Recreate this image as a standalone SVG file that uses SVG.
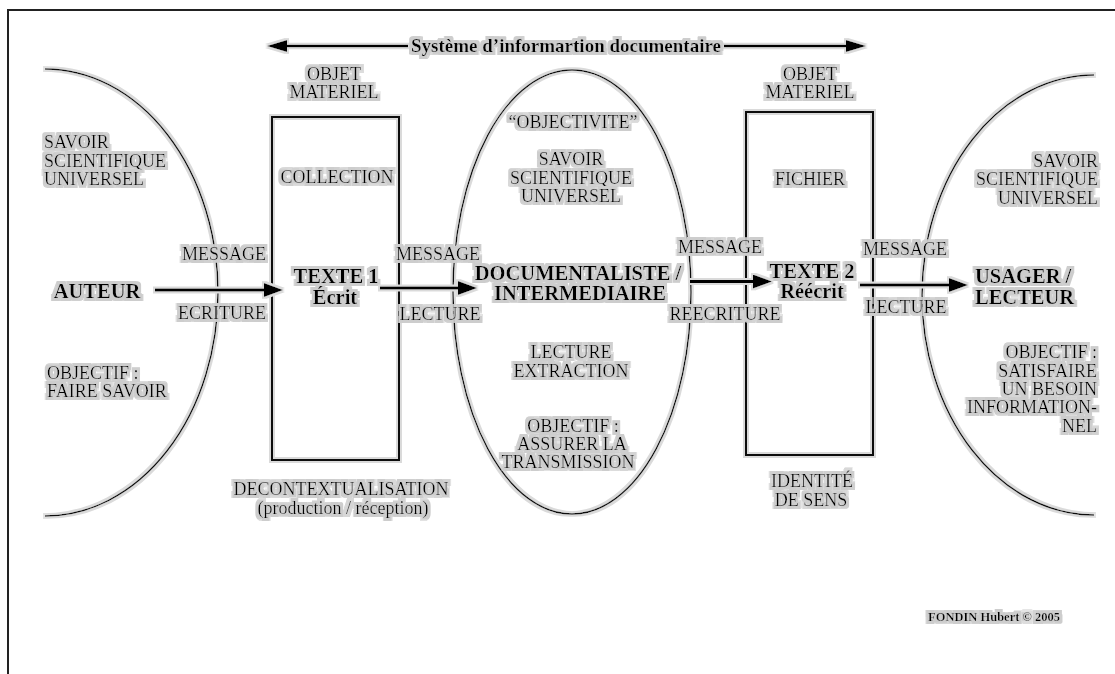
<svg xmlns="http://www.w3.org/2000/svg" width="1115" height="674" viewBox="0 0 1115 674">
<defs>
<style>
.t{font-family:"Liberation Serif","Times New Roman",serif;font-size:18px;fill:#000;filter:url(#haloT)}
.b{font-weight:bold;font-size:20.5px}
.m{text-anchor:middle}
.e{text-anchor:end}
.ln{fill:none;stroke:#111;stroke-width:1.5}
.bx{fill:none;stroke:#111;stroke-width:2}
.cn{fill:none;stroke:#000;stroke-width:3}
.tt{fill:none;stroke:#000;stroke-width:2.6}
.sh{filter:url(#haloL)}
</style>
<marker id="ah" markerUnits="userSpaceOnUse" markerWidth="20" markerHeight="14" refX="9" refY="7" orient="auto">
<path d="M0,0 L19,7 L0,14 z" fill="#000"/>
</marker>
<marker id="ahs" markerUnits="userSpaceOnUse" markerWidth="20" markerHeight="12" refX="10" refY="6" orient="auto-start-reverse">
<path d="M0,0 L20,6 L0,12 z" fill="#000"/>
</marker>
<filter id="haloT" filterUnits="userSpaceOnUse" x="0" y="0" width="1115" height="674">
<feMorphology in="SourceAlpha" operator="dilate" radius="2.5" result="d"/>
<feFlood flood-color="#cdcdcd"/>
<feComposite in2="d" operator="in" result="h"/>
<feMerge><feMergeNode in="h"/><feMergeNode in="SourceGraphic"/></feMerge>
</filter>
<filter id="haloL" filterUnits="userSpaceOnUse" x="0" y="0" width="1115" height="674">
<feMorphology in="SourceAlpha" operator="dilate" radius="1.6" result="d"/>
<feFlood flood-color="#dadada"/>
<feComposite in2="d" operator="in" result="h"/>
<feMerge><feMergeNode in="h"/><feMergeNode in="SourceGraphic"/></feMerge>
</filter>
</defs>
<rect width="1115" height="674" fill="#fff"/>
<path id="frame" d="M8,674 V10 H1115" fill="none" stroke="#222" stroke-width="2"/>

<g id="titre">
<g class="sh">
<line class="tt" x1="408" y1="46" x2="277" y2="46" marker-end="url(#ahs)"/>
<line class="tt" x1="724" y1="46" x2="856" y2="46" marker-end="url(#ahs)"/>
</g>
<text class="t m" x="566" y="52" style="font-weight:bold;font-size:19px">Système d’informartion documentaire</text>
</g>

<g id="auteur">
<path class="ln sh" d="M45,69 A173,223.5 0 0 1 45,516"/>
<text class="t" x="44" y="148">SAVOIR</text>
<text class="t" x="44" y="166.5">SCIENTIFIQUE</text>
<text class="t" x="44" y="185">UNIVERSEL</text>
<text class="t b m" x="97" y="298">AUTEUR</text>
<text class="t" x="47" y="379">OBJECTIF :</text>
<text class="t" x="47" y="397">FAIRE SAVOIR</text>
</g>

<g id="texte1">
<rect class="bx sh" x="272" y="117" width="127" height="343"/>
<text class="t m" x="334" y="80">OBJET</text>
<text class="t m" x="334" y="98">MATERIEL</text>
<text class="t m" x="337" y="183">COLLECTION</text>
<text class="t b m" x="336" y="283">TEXTE 1</text>
<text class="t b m" x="335" y="304">Écrit</text>
<text class="t m" x="341" y="495">DECONTEXTUALISATION</text>
<text class="t m" x="343" y="514">(production / réception)</text>
</g>

<g id="documentaliste">
<ellipse class="ln sh" cx="572" cy="292" rx="119" ry="222"/>
<text class="t m" x="573" y="128">“OBJECTIVITE”</text>
<text class="t m" x="571" y="165">SAVOIR</text>
<text class="t m" x="571" y="183.5">SCIENTIFIQUE</text>
<text class="t m" x="571" y="202">UNIVERSEL</text>
<text class="t b m" x="578" y="280">DOCUMENTALISTE /</text>
<text class="t b m" x="580" y="300">INTERMEDIAIRE</text>
<text class="t m" x="571" y="358">LECTURE</text>
<text class="t m" x="571" y="377">EXTRACTION</text>
<text class="t m" x="573" y="432">OBJECTIF :</text>
<text class="t m" x="572" y="450">ASSURER LA</text>
<text class="t m" x="568" y="468">TRANSMISSION</text>
</g>

<g id="texte2">
<rect class="bx sh" x="746" y="112" width="127" height="343"/>
<text class="t m" x="810" y="80">OBJET</text>
<text class="t m" x="810" y="98">MATERIEL</text>
<text class="t m" x="810" y="185">FICHIER</text>
<text class="t b m" x="812" y="278">TEXTE 2</text>
<text class="t b m" x="812" y="298">Réécrit</text>
<text class="t m" x="812" y="487">IDENTITÉ</text>
<text class="t m" x="811" y="506">DE SENS</text>
</g>

<g id="usager">
<path class="ln sh" d="M1094,75 A172,220 0 0 0 1094,515"/>
<text class="t e" x="1098" y="167">SAVOIR</text>
<text class="t e" x="1098" y="185">SCIENTIFIQUE</text>
<text class="t e" x="1098" y="204">UNIVERSEL</text>
<text class="t b" x="975" y="283">USAGER /</text>
<text class="t b" x="975" y="304">LECTEUR</text>
<text class="t e" x="1097" y="358">OBJECTIF :</text>
<text class="t e" x="1097" y="377">SATISFAIRE</text>
<text class="t e" x="1097" y="395">UN BESOIN</text>
<text class="t e" x="1097" y="413">INFORMATION-</text>
<text class="t e" x="1097" y="432">NEL</text>
</g>

<g id="connecteurs">
<g class="sh">
<line class="cn" x1="155" y1="290" x2="273" y2="290" marker-end="url(#ah)"/>
<line class="cn" x1="380" y1="288" x2="467" y2="288" marker-end="url(#ah)"/>
<line class="cn" x1="690" y1="281.5" x2="762" y2="281.5" marker-end="url(#ah)"/>
<line class="cn" x1="860" y1="285" x2="958" y2="285" marker-end="url(#ah)"/>
</g>
<text class="t m" x="224" y="260">MESSAGE</text>
<text class="t m" x="222" y="319">ECRITURE</text>
<text class="t m" x="438" y="260">MESSAGE</text>
<text class="t m" x="440" y="320">LECTURE</text>
<text class="t m" x="720" y="253">MESSAGE</text>
<text class="t m" x="725" y="320">REECRITURE</text>
<text class="t m" x="905" y="255">MESSAGE</text>
<text class="t m" x="906" y="313">LECTURE</text>
</g>

<g id="credit">
<text class="t m" x="994" y="621" style="font-weight:bold;font-size:12.5px">FONDIN Hubert © 2005</text>
</g>
</svg>
